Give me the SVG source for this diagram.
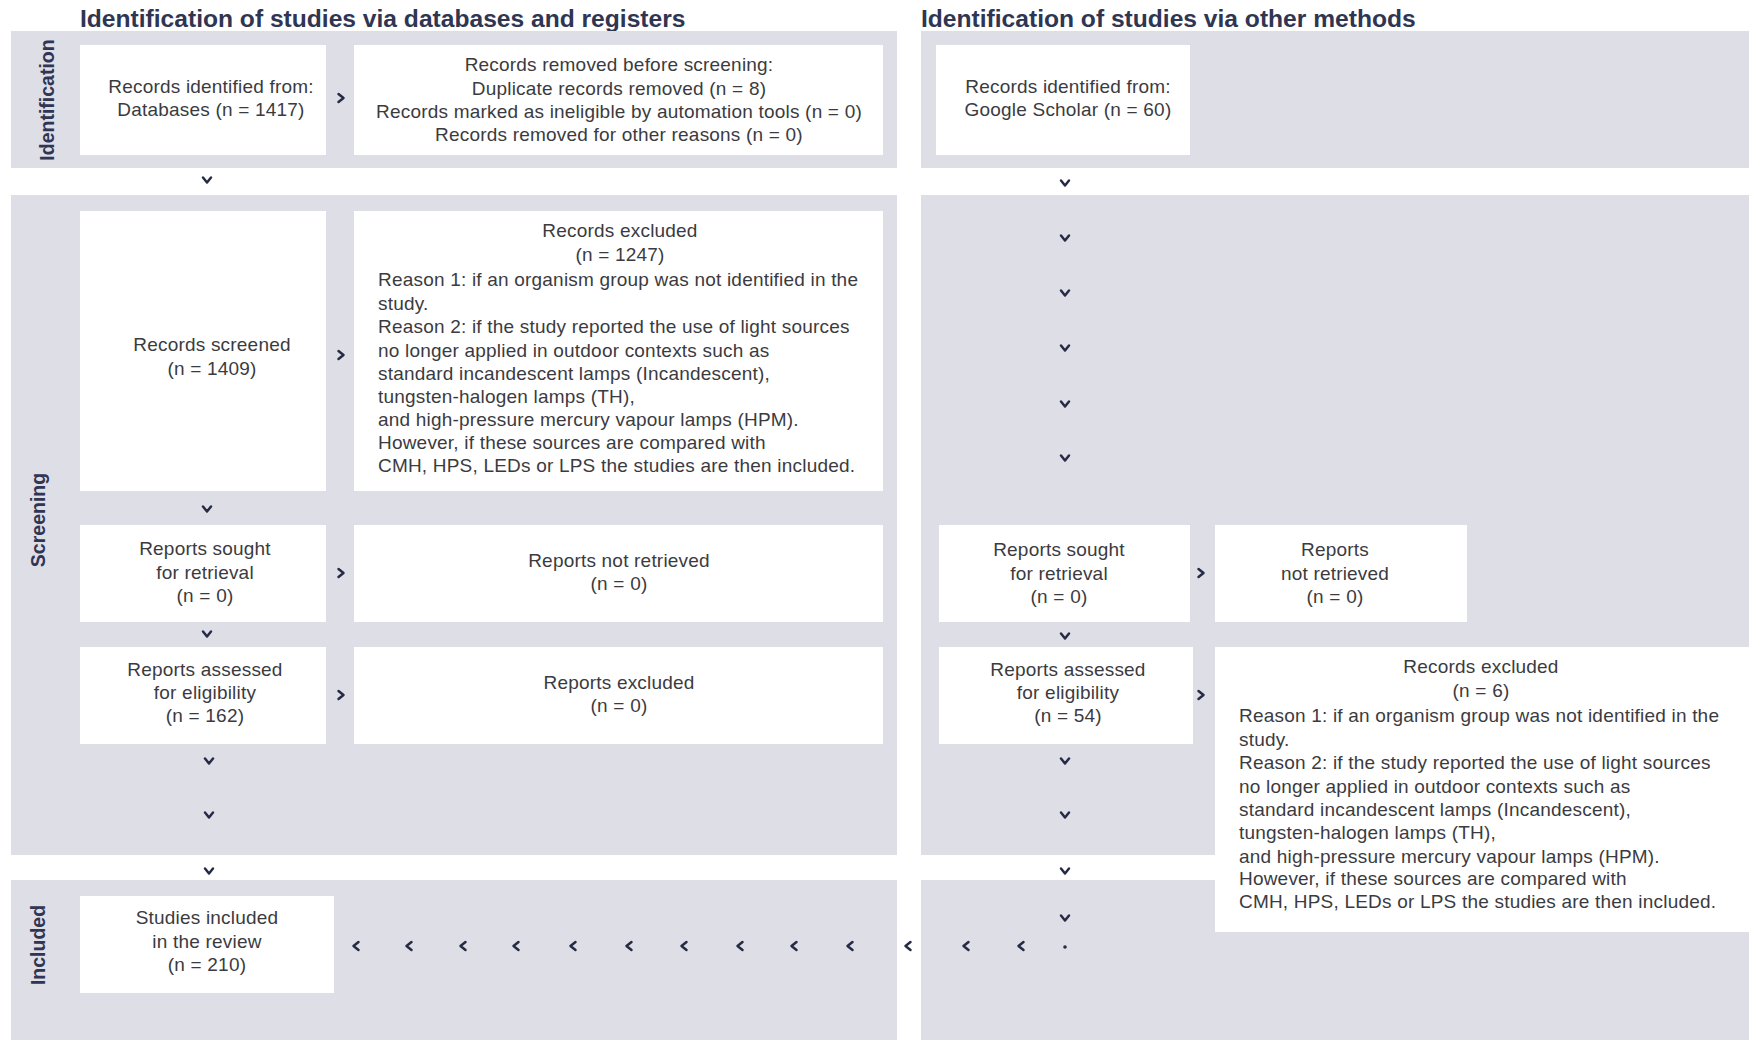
<svg xmlns="http://www.w3.org/2000/svg" width="1749" height="1040" viewBox="0 0 1749 1040">
<defs>
<style>
.band{fill:#dedee7}
.box{fill:#ffffff}
.t{font-family:"Liberation Sans",Arial,sans-serif;font-size:19px;letter-spacing:0.2px;fill:#3b3b3f}
.c{text-anchor:middle}
.title{font-family:"Liberation Sans",Arial,sans-serif;font-size:24.6px;font-weight:bold;fill:#2f3552}
.side{font-family:"Liberation Sans",Arial,sans-serif;font-size:19.5px;font-weight:bold;fill:#2f3552;text-anchor:middle}
.chev{fill:none;stroke:#262b45;stroke-width:2.5;stroke-linecap:round;stroke-linejoin:round}
</style>
<path id="dn" d="M-4,-2.5 L0,2.5 L4,-2.5"/>
<path id="rt" d="M-2.5,-4 L2.5,0 L-2.5,4"/>
<path id="lt" d="M2.5,-4 L-2.5,0 L2.5,4"/>
</defs>
<rect width="1749" height="1040" fill="#ffffff"/>

<g id="titles">
<text class="title" x="80" y="27">Identification of studies via databases and registers</text>
<text class="title" x="921" y="27">Identification of studies via other methods</text>
</g>

<g id="bands">
<rect class="band" x="11" y="31" width="886" height="137"/>
<rect class="band" x="921" y="31" width="828" height="137"/>
<rect class="band" x="11" y="195" width="886" height="660"/>
<rect class="band" x="921" y="195" width="828" height="660"/>
<rect class="band" x="11" y="880" width="886" height="160"/>
<rect class="band" x="921" y="880" width="828" height="160"/>
<text class="side" transform="translate(54,100) rotate(-90)">Identification</text>
<text class="side" transform="translate(45,520) rotate(-90)">Screening</text>
<text class="side" transform="translate(45,945) rotate(-90)">Included</text>
</g>

<g id="box-db-identified">
<rect class="box" x="80" y="45" width="246" height="110"/>
<text class="t c" x="211" y="93">Records identified from:</text>
<text class="t c" x="211" y="116">Databases (n = 1417)</text>
</g>

<g id="box-removed">
<rect class="box" x="354" y="45" width="529" height="110"/>
<text class="t c" x="619" y="71">Records removed before screening:</text>
<text class="t c" x="619" y="95">Duplicate records removed  (n = 8)</text>
<text class="t c" x="619" y="118">Records marked as ineligible by automation tools (n = 0)</text>
<text class="t c" x="619" y="141">Records removed for other reasons (n = 0)</text>
</g>

<g id="box-screened">
<rect class="box" x="80" y="211" width="246" height="280"/>
<text class="t c" x="212" y="351">Records screened</text>
<text class="t c" x="212" y="375">(n = 1409)</text>
</g>

<g id="box-excluded-db">
<rect class="box" x="354" y="211" width="529" height="280"/>
<text class="t c" x="620" y="237">Records excluded</text>
<text class="t c" x="620" y="261">(n = 1247)</text>
<text class="t" x="378" y="286">Reason 1:  if an organism group was not identified in the</text>
<text class="t" x="378" y="310">study.</text>
<text class="t" x="378" y="333">Reason 2: if the study reported the use of light sources</text>
<text class="t" x="378" y="357">no longer applied in outdoor contexts such as</text>
<text class="t" x="378" y="380">standard incandescent lamps (Incandescent),</text>
<text class="t" x="378" y="403">tungsten-halogen lamps (TH),</text>
<text class="t" x="378" y="426">and high-pressure mercury vapour lamps (HPM).</text>
<text class="t" x="378" y="449">However, if these sources are compared with</text>
<text class="t" x="378" y="472">CMH, HPS, LEDs or LPS the studies are then included.</text>
</g>

<g id="box-sought-db">
<rect class="box" x="80" y="525" width="246" height="97"/>
<text class="t c" x="205" y="555">Reports sought</text>
<text class="t c" x="205" y="579">for retrieval</text>
<text class="t c" x="205" y="602">(n = 0)</text>
</g>

<g id="box-notretrieved-db">
<rect class="box" x="354" y="525" width="529" height="97"/>
<text class="t c" x="619" y="567">Reports not retrieved</text>
<text class="t c" x="619" y="590">(n = 0)</text>
</g>

<g id="box-assessed-db">
<rect class="box" x="80" y="647" width="246" height="97"/>
<text class="t c" x="205" y="676">Reports assessed</text>
<text class="t c" x="205" y="699">for eligibility</text>
<text class="t c" x="205" y="722">(n = 162)</text>
</g>

<g id="box-reportsexcluded-db">
<rect class="box" x="354" y="647" width="529" height="97"/>
<text class="t c" x="619" y="689">Reports excluded</text>
<text class="t c" x="619" y="712">(n = 0)</text>
</g>

<g id="box-included">
<rect class="box" x="80" y="896" width="254" height="97"/>
<text class="t c" x="207" y="924">Studies included</text>
<text class="t c" x="207" y="948">in the review</text>
<text class="t c" x="207" y="971">(n = 210)</text>
</g>

<g id="box-other-identified">
<rect class="box" x="936" y="45" width="254" height="110"/>
<text class="t c" x="1068" y="93">Records identified from:</text>
<text class="t c" x="1068" y="116">Google Scholar (n = 60)</text>
</g>

<g id="box-sought-other">
<rect class="box" x="939" y="525" width="251" height="97"/>
<text class="t c" x="1059" y="556">Reports sought</text>
<text class="t c" x="1059" y="580">for retrieval</text>
<text class="t c" x="1059" y="603">(n = 0)</text>
</g>

<g id="box-notretrieved-other">
<rect class="box" x="1215" y="525" width="252" height="97"/>
<text class="t c" x="1335" y="556">Reports</text>
<text class="t c" x="1335" y="580">not retrieved</text>
<text class="t c" x="1335" y="603">(n = 0)</text>
</g>

<g id="box-assessed-other">
<rect class="box" x="939" y="647" width="254" height="97"/>
<text class="t c" x="1068" y="676">Reports assessed</text>
<text class="t c" x="1068" y="699">for eligibility</text>
<text class="t c" x="1068" y="722">(n = 54)</text>
</g>

<g id="box-excluded-other">
<rect class="box" x="1215" y="647" width="534" height="285"/>
<text class="t c" x="1481" y="673">Records excluded</text>
<text class="t c" x="1481" y="697">(n = 6)</text>
<text class="t" x="1239" y="722">Reason 1:  if an organism group was not identified in the</text>
<text class="t" x="1239" y="746">study.</text>
<text class="t" x="1239" y="769">Reason 2: if the study reported the use of light sources</text>
<text class="t" x="1239" y="793">no longer applied in outdoor contexts such as</text>
<text class="t" x="1239" y="816">standard incandescent lamps (Incandescent),</text>
<text class="t" x="1239" y="839">tungsten-halogen lamps (TH),</text>
<text class="t" x="1239" y="863">and high-pressure mercury vapour lamps (HPM).</text>
<text class="t" x="1239" y="885">However, if these sources are compared with</text>
<text class="t" x="1239" y="908">CMH, HPS, LEDs or LPS the studies are then included.</text>
</g>

<g id="connectors" class="chev">
<use href="#rt" x="341" y="98"/>
<use href="#rt" x="341" y="355"/>
<use href="#rt" x="341" y="573"/>
<use href="#rt" x="341" y="695"/>
<use href="#rt" x="1201" y="573"/>
<use href="#rt" x="1201" y="695"/>
<use href="#dn" x="207" y="180"/>
<use href="#dn" x="207" y="509"/>
<use href="#dn" x="207" y="634"/>
<use href="#dn" x="209" y="761"/>
<use href="#dn" x="209" y="815"/>
<use href="#dn" x="209" y="871"/>
<use href="#dn" x="1065" y="183"/>
<use href="#dn" x="1065" y="238"/>
<use href="#dn" x="1065" y="293"/>
<use href="#dn" x="1065" y="348"/>
<use href="#dn" x="1065" y="404"/>
<use href="#dn" x="1065" y="458"/>
<use href="#dn" x="1065" y="636"/>
<use href="#dn" x="1065" y="761"/>
<use href="#dn" x="1065" y="815"/>
<use href="#dn" x="1065" y="871"/>
<use href="#dn" x="1065" y="918"/>
<use href="#lt" x="356" y="946"/>
<use href="#lt" x="409" y="946"/>
<use href="#lt" x="463" y="946"/>
<use href="#lt" x="516" y="946"/>
<use href="#lt" x="573" y="946"/>
<use href="#lt" x="629" y="946"/>
<use href="#lt" x="684" y="946"/>
<use href="#lt" x="740" y="946"/>
<use href="#lt" x="794" y="946"/>
<use href="#lt" x="850" y="946"/>
<use href="#lt" x="908" y="946"/>
<use href="#lt" x="966" y="946"/>
<use href="#lt" x="1021" y="946"/>
<circle cx="1065" cy="947" r="1.8" fill="#262b45" stroke="none"/>
</g>
</svg>
